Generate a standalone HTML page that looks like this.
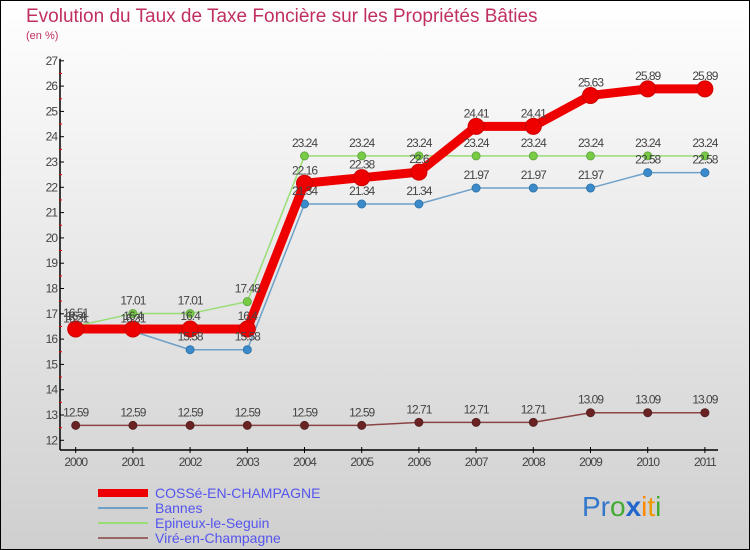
<!DOCTYPE html>
<html><head><meta charset="utf-8"><style>
body{margin:0}
#c{width:750px;height:550px;position:relative;overflow:hidden;font-family:"Liberation Sans",sans-serif}
</style></head><body>
<div id="c">
<svg id="s" width="750" height="550" xmlns="http://www.w3.org/2000/svg">
<defs><linearGradient id="bg" x1="0" y1="0" x2="0" y2="1"><stop offset="0" stop-color="#ffffff"/><stop offset="1" stop-color="#cfcfcf"/></linearGradient></defs>
<rect x="0.5" y="0.5" width="749" height="549" fill="url(#bg)" stroke="#000"/>
<text x="26" y="22" font-size="19" fill="#c0305f">Evolution du Taux de Taxe Foncière sur les Propriétés Bâties</text>
<text x="26" y="39" font-size="11" fill="#c0305f">(en %)</text>
<g id="axes"></g><g id="series"></g><g id="labels"></g>
<g>
<rect x="98" y="489" width="50" height="8" fill="#e00"/>
<text x="155" y="498" font-size="14" fill="#5555ee">COSSé-EN-CHAMPAGNE</text>
<rect x="98" y="507" width="50" height="2" fill="#6fa0c8"/>
<text x="155" y="513" font-size="14" fill="#5555ee">Bannes</text>
<rect x="98" y="522" width="50" height="2" fill="#99dd77"/>
<text x="155" y="528" font-size="14" fill="#5555ee">Epineux-le-Seguin</text>
<rect x="98" y="537" width="50" height="2" fill="#996666"/>
<text x="155" y="543" font-size="14" fill="#5555ee">Viré-en-Champagne</text>
</g>
<g font-size="28" font-family="Liberation Sans,sans-serif">
<text x="582" y="516"><tspan fill="#3377cc">Pr</tspan><tspan fill="#44aa33">o</tspan><tspan fill="#2266cc" font-weight="bold">x</tspan><tspan fill="#ff8800">i</tspan><tspan fill="#ee9900">t</tspan><tspan fill="#44aa33">i</tspan></text>
</g>
</svg>
</div>
<script>
const years=[2000,2001,2002,2003,2004,2005,2006,2007,2008,2009,2010,2011];
const cosse=[16.4,16.4,16.4,16.4,22.16,22.38,22.6,24.41,24.41,25.63,25.89,25.89];
const bannes=[16.31,16.31,15.58,15.58,21.34,21.34,21.34,21.97,21.97,21.97,22.58,22.58];
const epineux=[16.51,17.01,17.01,17.48,23.24,23.24,23.24,23.24,23.24,23.24,23.24,23.24];
const vire=[12.59,12.59,12.59,12.59,12.59,12.59,12.71,12.71,12.71,13.09,13.09,13.09];
const yTicks=[12,13,14,15,16,17,18,19,20,21,22,23,24,25,26,27];
const NS="http://www.w3.org/2000/svg";
const X=i=>75.7+i*57.2;
const Y=v=>440.3-(v-12)*25.3;
function mk(t,a,p){const e=document.createElementNS(NS,t);for(const k in a)e.setAttribute(k,a[k]);p.appendChild(e);return e;}
const ax=document.getElementById('axes');
const yl=mk('line',{x1:60,y1:Y(27)-2,x2:60,y2:450,stroke:'#000','stroke-width':1.5},ax);


const xl=mk('line',{x1:60,y1:450,x2:718,y2:450,stroke:'#000','stroke-width':1.5},ax);


yTicks.forEach(v=>{
  mk('line',{x1:60,y1:Y(v),x2:64,y2:Y(v),stroke:'#000'},ax);
  if(v<27)mk('line',{x1:59,y1:Y(v+0.5),x2:62,y2:Y(v+0.5),stroke:'#e00'},ax);
  const t=mk('text',{x:57,y:Y(v)+4,'font-size':12,fill:'#444','text-anchor':'end','letter-spacing':'-1'},ax);
  t.textContent=v;
  
  
});
years.forEach((yr,i)=>{
  mk('line',{x1:X(i),y1:447,x2:X(i),y2:453,stroke:'#000'},ax);
  const t=mk('text',{x:X(i),y:466,'font-size':12,fill:'#444','text-anchor':'middle','letter-spacing':'-1'},ax);
  t.textContent=yr;
  
  
});
const sg=document.getElementById('series'),lg=document.getElementById('labels');
function draw(data,name,color,w,r,dot,fill){
  const g=mk('g',{},sg);
  
  
  const pl=mk('polyline',{points:data.map((v,i)=>X(i)+','+Y(v)).join(' '),fill:'none',stroke:color,'stroke-width':w,'stroke-linejoin':'round'},g);
  
  
  data.forEach((v,i)=>{
    const c=mk('circle',{cx:X(i),cy:Y(v),r:r,fill:fill,stroke:dot,'stroke-width':1},g);
    
    
    const t=mk('text',{x:X(i),y:Y(v)-9,'font-size':12,fill:'#444','text-anchor':'middle','letter-spacing':'-1'},lg);
    t.textContent=String(v);
    
    
  });
}
draw(vire,'vire','#8a4444',1.5,4,'#552222','#6b2222');
draw(epineux,'epineux','#99dd77',1.5,4,'#66aa44','#77cc44');
draw(bannes,'bannes','#6fa0c8',1.5,4,'#3377aa','#3a8acc');
draw(cosse,'cosse','#ee0000',9,8,'#cc0000','#ee0000');
</script>
</body></html>
